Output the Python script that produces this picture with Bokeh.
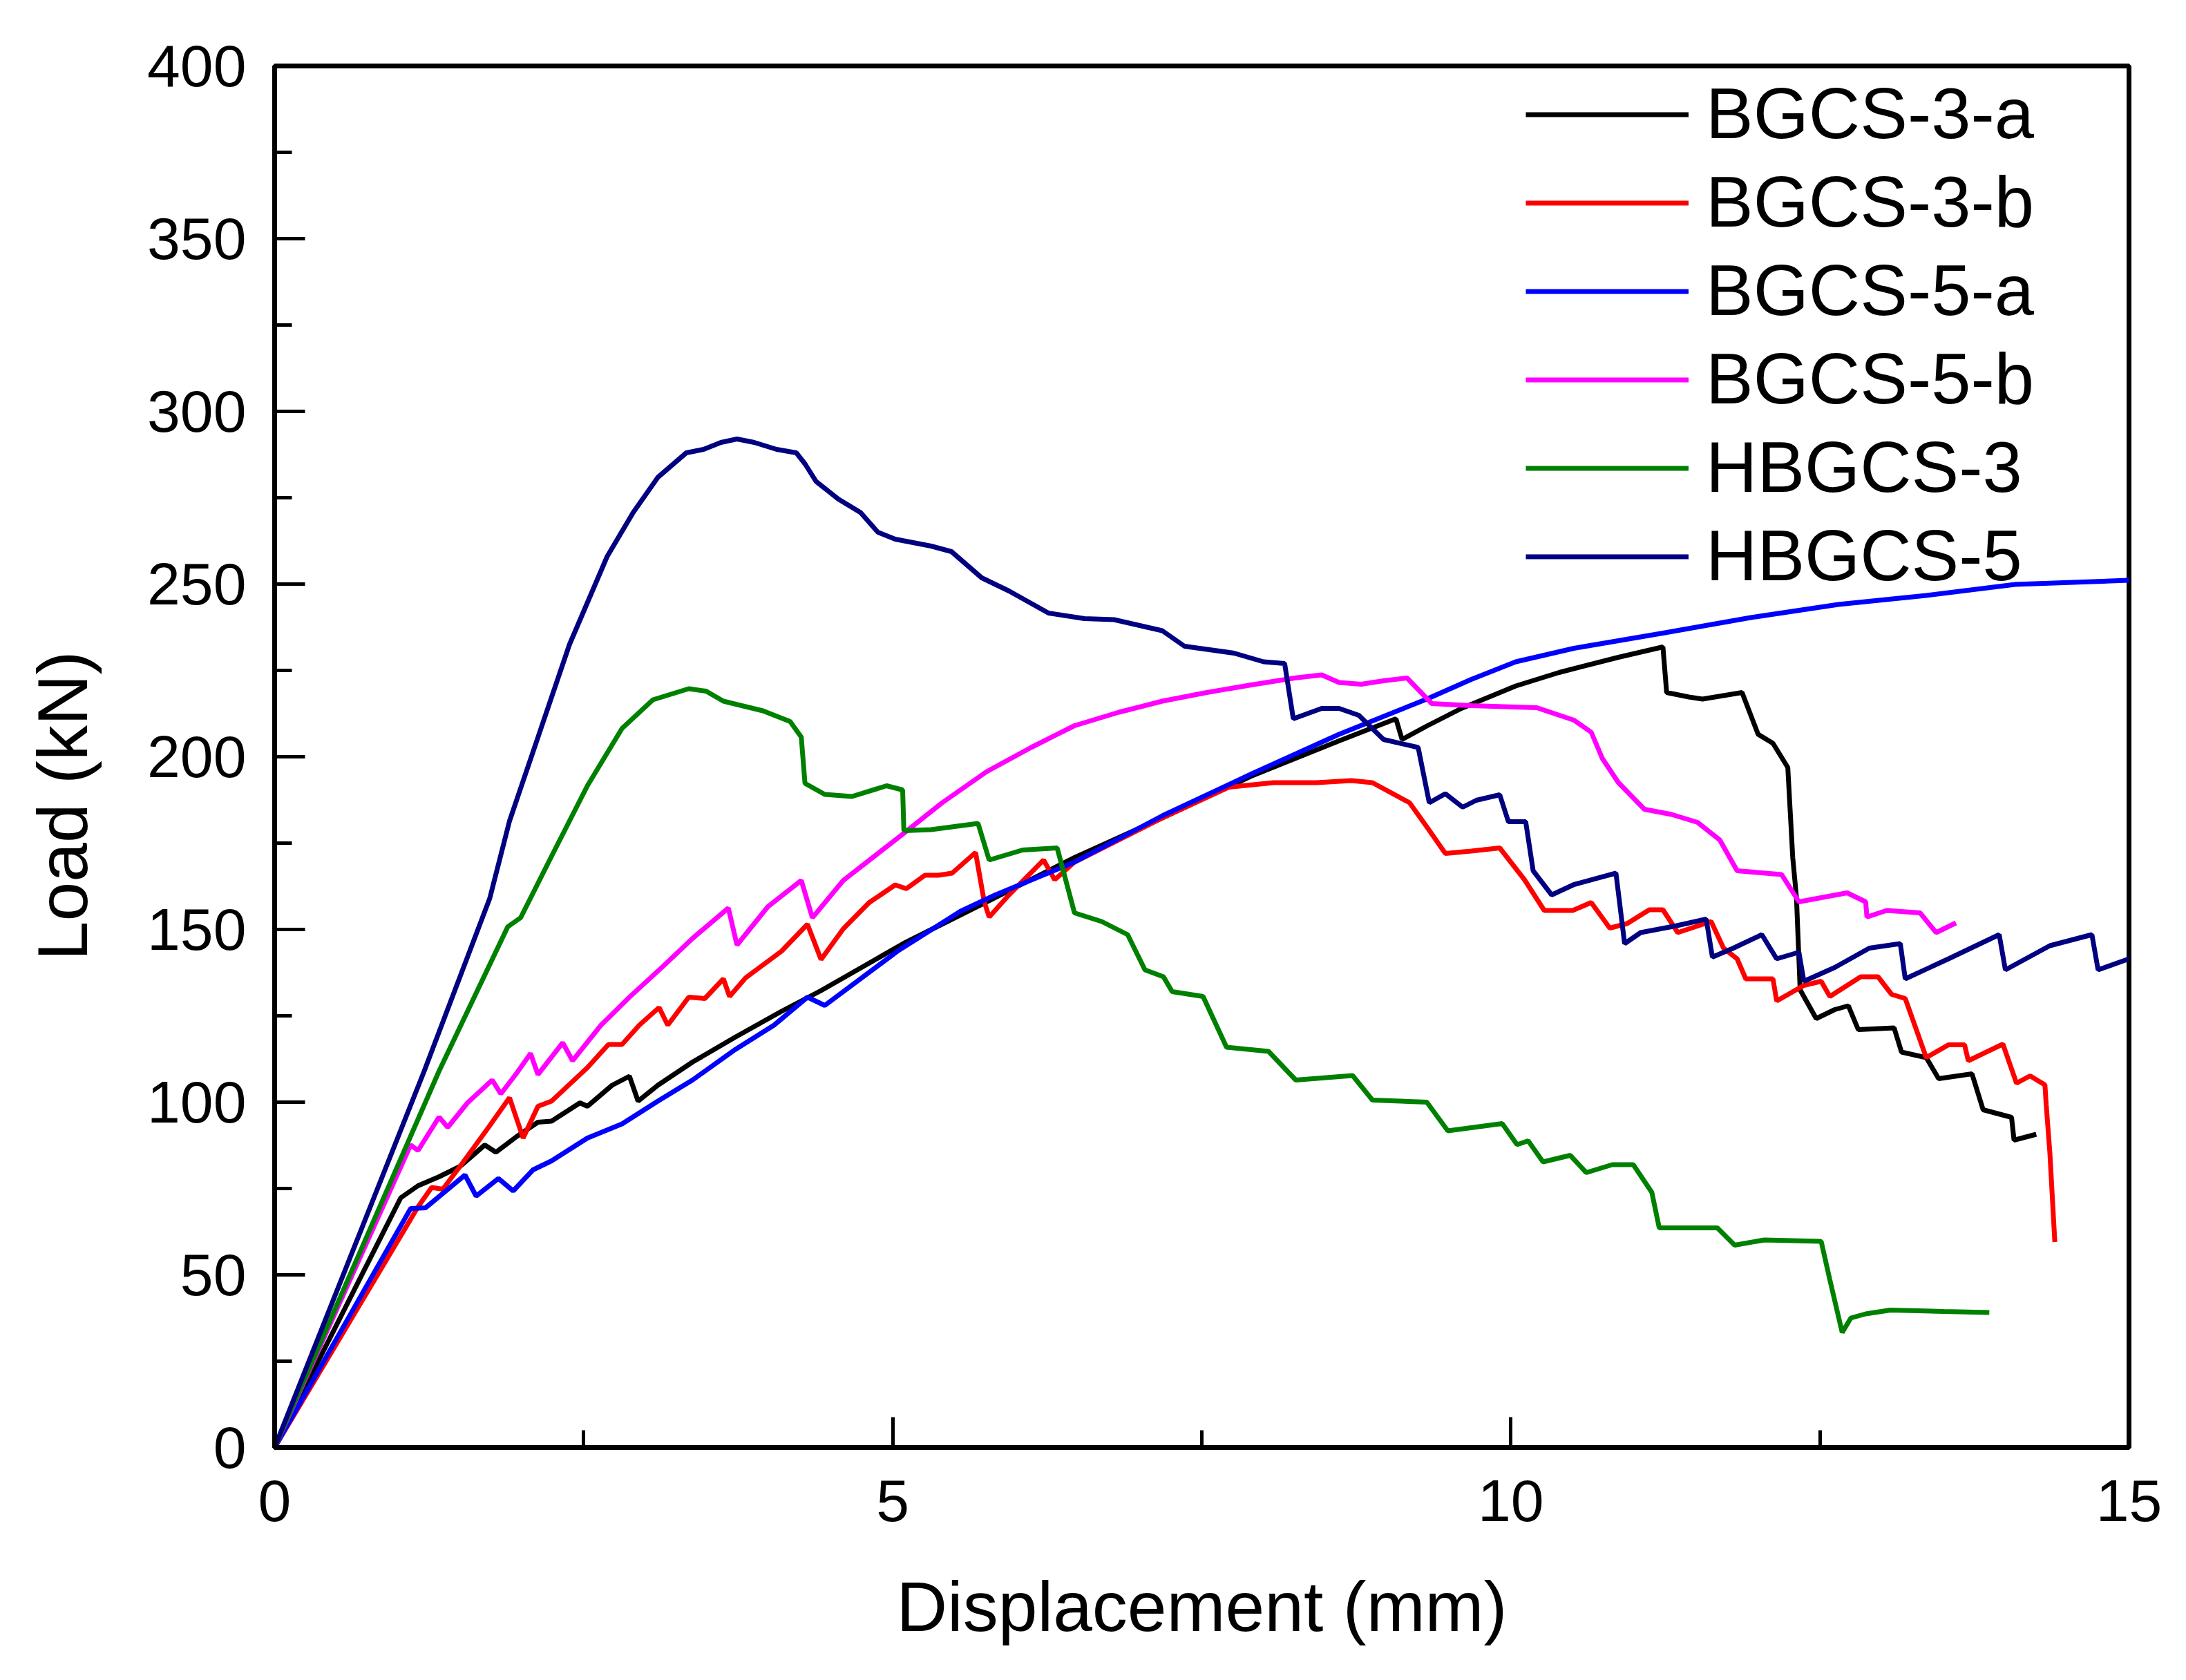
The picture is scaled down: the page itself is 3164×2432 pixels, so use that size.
from bokeh.plotting import figure
from bokeh.models import Range1d, SingleIntervalTicker, Legend, LegendItem
from bokeh.embed import file_html
from bokeh.resources import INLINE

# Load-displacement curves (x in mm, y in kN)
bgcs3a_x = [0, 1.02, 1.16, 1.33, 1.50, 1.70, 1.79, 1.96, 2.13, 2.24, 2.47, 2.53, 2.73, 2.87, 2.94,
            3.10, 3.38, 3.72, 4.10, 4.42, 5.09, 5.76, 6.47, 7.18, 7.90, 8.61, 9.07, 9.12, 9.32,
            9.60, 10.04, 10.39, 10.87, 11.23, 11.26, 11.44, 11.55, 11.87, 12.00, 12.12, 12.24,
            12.28, 12.31, 12.34, 12.47, 12.62, 12.73, 12.81, 13.10, 13.16, 13.36, 13.46, 13.73,
            13.82, 14.05, 14.07, 14.25]
bgcs3a_y = [0, 72.3, 75.8, 78.4, 81.4, 87.6, 85.5, 90.1, 94.2, 94.5, 99.8, 98.8, 104.9, 107.5, 100.3,
            104.9, 111.6, 118.7, 126.3, 132.3, 146.0, 158.0, 170.8, 182.3, 194.4, 204.6, 211.0, 205.0, 208.9,
            214.0, 220.5, 224.4, 228.8, 231.8, 218.6, 217.3, 216.7, 218.6, 206.5, 203.9, 196.9,
            170.8, 159.3, 132.5, 124.2, 126.8, 127.9, 121.0, 121.5, 114.5, 112.9, 106.8, 108.2,
            97.8, 95.6, 89.0, 90.7]

bgcs3b_x = [0, 1.16, 1.27, 1.36, 1.50, 1.73, 1.90, 2.01, 2.13, 2.24, 2.53, 2.70, 2.81, 2.95, 3.11,
            3.18, 3.35, 3.48, 3.63, 3.68, 3.81, 4.10, 4.31, 4.42, 4.60, 4.81, 5.02, 5.11, 5.26, 5.37,
            5.48, 5.67, 5.74, 5.78, 5.94, 6.22, 6.31, 6.47, 7.18, 7.72, 8.08, 8.43, 8.71, 8.88, 9.18,
            9.32, 9.47, 9.68, 9.91, 10.11, 10.27, 10.50, 10.65, 10.80, 10.94, 11.12, 11.23, 11.35,
            11.62, 11.72, 11.83, 11.90, 12.12, 12.15, 12.37, 12.51, 12.58, 12.83, 12.97, 13.08, 13.19,
            13.36, 13.54, 13.67, 13.70, 13.98, 14.09, 14.20, 14.32, 14.33, 14.36, 14.40]
bgcs3b_y = [0, 69.7, 75.3, 74.8, 81.4, 92.7, 101.3, 89.6, 98.8, 100.3, 110.0, 116.7, 116.7, 122.3, 127.4,
            122.3, 130.4, 130.0, 135.7, 130.6, 136.0, 143.7, 151.5, 141.3, 150.2, 157.8, 162.9, 161.8, 165.7, 165.7,
            166.3, 172.3, 158.0, 153.6, 160.0, 170.1, 164.4, 169.5, 182.3, 191.2, 192.5, 192.5, 193.1, 192.5, 186.7,
            179.7, 172.0, 172.7, 173.6, 164.4, 155.5, 155.5, 157.8, 150.4, 151.7, 155.7, 155.7, 149.1,
            152.3, 144.6, 141.5, 135.7, 135.7, 129.3, 133.8, 135.0, 130.6, 136.3, 136.3, 131.2, 130.0,
            112.9, 116.6, 116.6, 112.0, 116.8, 105.5, 107.6, 105.0, 99.4, 85.3, 59.5]

bgcs5a_x = [0, 1.10, 1.22, 1.54, 1.63, 1.81, 1.93, 2.09, 2.24, 2.53, 2.81, 3.10, 3.38, 3.72, 4.04,
            4.31, 4.45, 5.05, 5.55, 5.83, 6.47, 7.18, 7.90, 8.61, 9.32, 9.68, 10.04, 10.51, 11.23,
            11.94, 12.65, 13.36, 14.08, 15.0]
bgcs5a_y = [0, 69.2, 69.4, 78.9, 72.8, 77.9, 74.3, 80.4, 83.0, 89.6, 93.7, 100.3, 106.4, 115.1, 122.3,
            130.4, 128.0, 144.0, 155.3, 160.0, 169.5, 182.9, 195.0, 206.5, 216.7, 222.4, 227.5, 231.4, 235.8,
            240.3, 244.1, 246.7, 249.9, 251.1]

bgcs5b_x = [0, 1.10, 1.16, 1.33, 1.40, 1.56, 1.76, 1.83, 1.96, 2.07, 2.13, 2.33, 2.41, 2.64, 2.87,
            3.15, 3.38, 3.67, 3.74, 3.99, 4.26, 4.35, 4.60, 5.07, 5.40, 5.76, 6.12, 6.47, 6.83, 7.18,
            7.54, 7.90, 8.25, 8.47, 8.61, 8.79, 8.97, 9.16, 9.36, 9.68, 10.21, 10.51, 10.65, 10.74,
            10.87, 11.08, 11.30, 11.51, 11.69, 11.83, 12.19, 12.33, 12.72, 12.87, 12.88, 13.04, 13.31,
            13.44, 13.60]
bgcs5b_y = [0, 87.6, 86.0, 95.7, 92.7, 99.8, 106.4, 102.4, 108.5, 114.1, 108.0, 117.2, 112.0, 122.3, 130.4,
            139.6, 147.4, 156.2, 145.5, 156.6, 164.2, 153.4, 164.2, 177.3, 186.7, 195.7, 202.7, 209.0, 212.9, 216.1,
            218.6, 220.8, 222.8, 223.7, 221.5, 221.0, 222.0, 222.8, 215.4, 214.8, 214.2, 210.6, 207.1, 199.5,
            192.5, 184.8, 183.3, 181.0, 175.9, 167.0, 165.9, 158.0, 160.6, 158.0, 153.6, 155.5, 154.8,
            149.1, 151.9]

hbgcs3_x = [0, 1.33, 1.886, 1.99, 2.24, 2.53, 2.81, 3.06, 3.35, 3.49, 3.63, 3.95, 4.17, 4.26, 4.29,
            4.45, 4.67, 4.95, 5.08, 5.09, 5.31, 5.69, 5.78, 6.05, 6.33, 6.47, 6.69, 6.90, 7.04, 7.19,
            7.26, 7.51, 7.70, 8.04, 8.26, 8.72, 8.88, 9.32, 9.49, 9.93, 10.05, 10.14, 10.26, 10.48,
            10.61, 10.82, 10.99, 11.14, 11.20, 11.67, 11.81, 12.05, 12.51, 12.58, 12.68, 12.75, 12.87,
            13.07, 13.50, 13.87]
hbgcs3_y = [0, 109.0, 150.8, 153.4, 171.2, 191.6, 208.2, 216.5, 219.7, 219.0, 216.1, 213.3, 210.2, 205.7, 192.3,
            189.1, 188.5, 191.6, 190.4, 178.6, 178.9, 180.7, 170.1, 173.0, 173.6, 154.8, 152.3, 148.5, 138.3, 136.3,
            132.0, 130.6, 115.9, 114.7, 106.4, 107.7, 100.6, 100.0, 91.7, 93.8, 87.7, 88.8, 82.7, 84.6,
            79.6, 81.9, 81.9, 73.9, 63.6, 63.6, 58.6, 60.1, 59.7, 48.6, 33.3, 37.5, 38.7,
            39.8, 39.4, 39.1]

hbgcs5_x = [0, 1.21, 1.74, 1.90, 2.385, 2.69, 2.90, 3.10, 3.33, 3.47, 3.61, 3.74, 3.88, 4.06, 4.22,
            4.29, 4.38, 4.56, 4.74, 4.88, 5.02, 5.31, 5.475, 5.72, 5.94, 6.26, 6.55, 6.79, 7.18, 7.36,
            7.76, 8.00, 8.17, 8.24, 8.47, 8.61, 8.77, 8.97, 9.25, 9.34, 9.47, 9.61, 9.72, 9.91, 9.98,
            10.12, 10.18, 10.33, 10.51, 10.85, 10.92, 11.05, 11.33, 11.58, 11.63, 11.80, 12.03, 12.15,
            12.33, 12.37, 12.62, 12.90, 13.15, 13.19, 13.54, 13.95, 14.00, 14.36, 14.70, 14.75, 15.0]
hbgcs5_y = [0, 109.0, 159.0, 181.4, 232.5, 258.0, 270.7, 280.9, 288.0, 289.0, 291.0, 292.0, 291.0, 289.0, 288.0,
            284.8, 279.7, 274.6, 270.7, 265.0, 263.0, 261.0, 259.4, 251.8, 248.0, 241.6, 240.0, 239.7, 236.5, 232.0,
            230.0, 227.5, 227.0, 211.0, 214.0, 214.0, 212.0, 205.0, 202.7, 186.7, 189.3, 185.4, 187.4, 189.0, 181.2,
            181.2, 167.0, 160.0, 163.0, 166.3, 145.9, 149.1, 151.0, 153.0, 142.0, 144.6, 148.5, 141.5,
            143.4, 135.0, 139.0, 144.6, 145.9, 135.7, 141.5, 148.5, 138.3, 145.3, 148.5, 138.3, 141.5]

names = ["BGCS-3-a", "BGCS-3-b", "BGCS-5-a", "BGCS-5-b", "HBGCS-3", "HBGCS-5"]
colors = ["#000000", "#FF0000", "#0000FF", "#FF00FF", "#008000", "#000080"]
series = [(bgcs3a_x, bgcs3a_y), (bgcs3b_x, bgcs3b_y), (bgcs5a_x, bgcs5a_y),
          (bgcs5b_x, bgcs5b_y), (hbgcs3_x, hbgcs3_y), (hbgcs5_x, hbgcs5_y)]

FONT = "Liberation Sans"

# the y title sits a little below the middle of the axis in the original,
# trailing no-break spaces push it down
p = figure(width=3148, height=2416, output_backend="svg", toolbar_location=None,
           x_range=Range1d(0, 15), y_range=Range1d(0, 400),
           x_axis_label="Displacement (mm)", y_axis_label="Load (kN)" + "\u00a0" * 5,
           min_border_left=397, min_border_right=67, min_border_top=95, min_border_bottom=321)

p.xgrid.visible = False
p.ygrid.visible = False
p.outline_line_color = "black"
p.outline_line_width = 7

p.xaxis.ticker = SingleIntervalTicker(interval=5, num_minor_ticks=2)
p.yaxis.ticker = SingleIntervalTicker(interval=50, num_minor_ticks=2)

for ax in (p.xaxis, p.yaxis):
    ax.axis_line_width = 7
    ax.axis_line_color = "black"
    ax.major_tick_in = 44
    ax.major_tick_out = 0
    ax.minor_tick_in = 25
    ax.minor_tick_out = 0
    ax.major_tick_line_width = 5
    ax.minor_tick_line_width = 5
    ax.major_tick_line_color = "black"
    ax.minor_tick_line_color = "black"
    ax.major_label_text_font = FONT
    ax.major_label_text_font_size = "86px"
    ax.major_label_text_color = "black"
    ax.axis_label_text_font = FONT
    ax.axis_label_text_font_size = "102px"
    ax.axis_label_text_font_style = "normal"
    ax.axis_label_text_color = "black"

p.xaxis.major_label_standoff = 47
p.yaxis.major_label_standoff = 41
p.xaxis.axis_label_standoff = 64
p.yaxis.axis_label_standoff = 62

items = []
for name, color, (xs, ys) in zip(names, colors, series):
    r = p.line(xs, ys, line_color=color, line_width=7)
    items.append(LegendItem(label=name, renderers=[r]))

legend = Legend(items=items, location=(1811, 1231))
legend.border_line_color = None
legend.background_fill_alpha = 0
legend.padding = 0
legend.margin = 0
legend.glyph_width = 236
legend.glyph_height = 115
legend.label_height = 115
legend.spacing = 10
legend.label_standoff = 25
legend.label_text_font = FONT
legend.label_text_font_size = "103px"
legend.label_text_color = "black"
p.add_layout(legend, "center")

open("out.html", "w").write(file_html(p, INLINE))
